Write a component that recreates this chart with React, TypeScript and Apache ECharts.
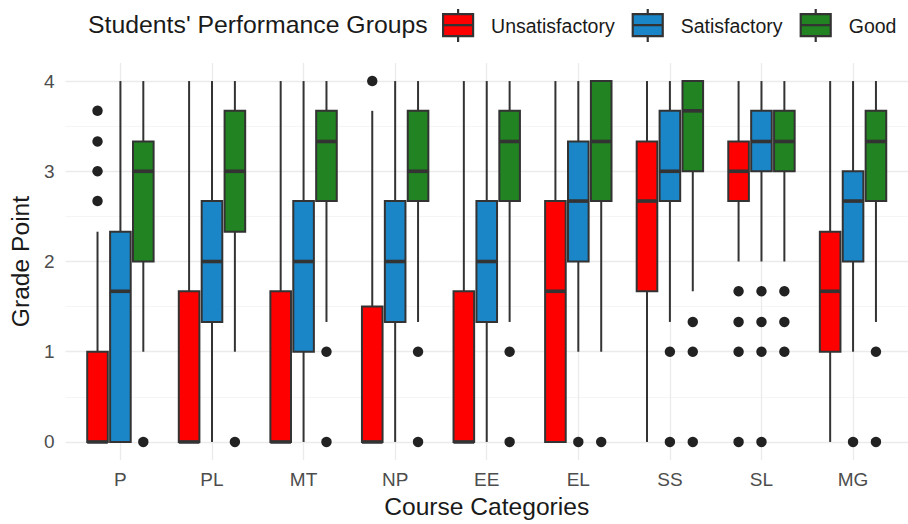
import React, { useEffect, useRef } from 'react';
import * as echarts from 'echarts';

const categories = ['P', 'PL', 'MT', 'NP', 'EE', 'EL', 'SS', 'SL', 'MG'];
const groupNames = ['Unsatisfactory', 'Satisfactory', 'Good'];
const groupColors = ['#FF0000', '#1A86C8', '#218321'];

// Unsatisfactory
const unsatLow = [0, 0, 0, 0, 0, 0, 0, 2, 0];
const unsatQ1 = [0, 0, 0, 0, 0, 0, 1.67, 2.67, 1];
const unsatMed = [0, 0, 0, 0, 0, 1.67, 2.67, 3, 1.67];
const unsatQ3 = [1, 1.67, 1.67, 1.5, 1.67, 2.67, 3.33, 3.33, 2.33];
const unsatHigh = [2.33, 4, 4, 3.67, 4, 4, 4, 4, 4];
const unsatOut = [[2.67, 3, 3.33, 3.67], [], [], [4], [], [], [], [1.67, 1.33, 1, 0], []];

// Satisfactory
const satLow = [0, 0, 0, 0, 0, 1, 1.33, 2, 1];
const satQ1 = [0, 1.33, 1, 1.33, 1.33, 2, 2.67, 3, 2];
const satMed = [1.67, 2, 2, 2, 2, 2.67, 3, 3.33, 2.67];
const satQ3 = [2.33, 2.67, 2.67, 2.67, 2.67, 3.33, 3.67, 3.67, 3];
const satHigh = [4, 4, 4, 4, 4, 4, 4, 4, 4];
const satOut = [[], [], [], [], [], [0], [1, 0], [1.67, 1.33, 1, 0], [0]];

// Good
const goodLow = [1, 1, 1.33, 1.33, 1.33, 1, 1.67, 2, 1.33];
const goodQ1 = [2, 2.33, 2.67, 2.67, 2.67, 2.67, 3, 3, 2.67];
const goodMed = [3, 3, 3.33, 3, 3.33, 3.33, 3.67, 3.33, 3.33];
const goodQ3 = [3.33, 3.67, 3.67, 3.67, 3.67, 4, 4, 3.67, 3.67];
const goodHigh = [4, 4, 4, 4, 4, 4, 4, 4, 4];
const goodOut = [[0], [0], [1, 0], [1, 0], [1, 0], [0], [1.33, 1, 0], [1.67, 1.33, 1], [1, 0]];

const yMajorTicks = [0, 1, 2, 3, 4];
const yMinorTicks = [0.5, 1.5, 2.5, 3.5];

const groups = [
  { low: unsatLow, q1: unsatQ1, med: unsatMed, q3: unsatQ3, high: unsatHigh, out: unsatOut },
  { low: satLow, q1: satQ1, med: satMed, q3: satQ3, high: satHigh, out: satOut },
  { low: goodLow, q1: goodQ1, med: goodMed, q3: goodQ3, high: goodHigh, out: goodOut },
];

const FONT = 'Liberation Sans, Arial, Helvetica, sans-serif';
const DODGE = [-0.25, 0, 0.25];
const BOX_W = 0.225;
const INK = '#333333';

export default function App() {
  const ref = useRef<HTMLDivElement>(null);

  useEffect(() => {
    if (!ref.current) return;
    const chart = echarts.init(ref.current, null, { renderer: 'svg' });

    const series = groups.map((g, gi) => ({
      type: 'custom',
      name: groupNames[gi],
      itemStyle: { color: groupColors[gi] },
      data: categories.map((_, i) => [i + 1, g.low[i], g.q1[i], g.med[i], g.q3[i], g.high[i]]),
      encode: { x: 0, y: [1, 2, 3, 4, 5] },
      renderItem: (params: any, api: any) => {
        const x = api.value(0) + DODGE[gi];
        const pLow = api.coord([x, api.value(1)]);
        const pQ1 = api.coord([x, api.value(2)]);
        const pMed = api.coord([x, api.value(3)]);
        const pQ3 = api.coord([x, api.value(4)]);
        const pHigh = api.coord([x, api.value(5)]);
        const half = api.size([BOX_W, 0])[0] / 2;
        const cx = pMed[0];
        const children: any[] = [
          {
            type: 'line',
            shape: { x1: cx, y1: pQ3[1], x2: cx, y2: pHigh[1] },
            style: { stroke: INK, lineWidth: 2 },
          },
          {
            type: 'line',
            shape: { x1: cx, y1: pQ1[1], x2: cx, y2: pLow[1] },
            style: { stroke: INK, lineWidth: 2 },
          },
          {
            type: 'rect',
            shape: { x: cx - half, y: pQ3[1], width: half * 2, height: pQ1[1] - pQ3[1] },
            style: { fill: groupColors[gi], stroke: INK, lineWidth: 2 },
          },
          {
            type: 'line',
            shape: { x1: cx - half, y1: pMed[1], x2: cx + half, y2: pMed[1] },
            style: { stroke: INK, lineWidth: 3.6 },
          },
        ];
        const outs = g.out[params.dataIndex] || [];
        outs.forEach((v: number) => {
          const p = api.coord([x, v]);
          children.push({
            type: 'circle',
            shape: { cx: p[0], cy: p[1], r: 5.2 },
            style: { fill: '#222222' },
          });
        });
        return { type: 'group', children };
      },
    }));

    chart.setOption({
      animation: false,
      textStyle: { fontFamily: FONT },
      title: {
        text: "Students' Performance Groups",
        left: 88,
        top: 12,
        padding: 0,
        textStyle: { fontSize: 24.8, fontWeight: 'normal', color: '#1a1a1a', fontFamily: FONT },
      },
      legend: {
        data: groupNames,
        left: 442,
        top: 8,
        padding: 0,
        itemWidth: 30,
        itemHeight: 33,
        itemGap: 17,
        selectedMode: false,
        icon: 'path://M0 5 L30 5 L30 27 L0 27 Z M15 0 L15 5 M15 27 L15 33 M0 16 L30 16',
        itemStyle: { borderColor: INK, borderWidth: 2.2 },
        textStyle: { fontSize: 19.5, color: '#1a1a1a', fontFamily: FONT, padding: [0, 0, 0, 13] },
      },
      grid: { left: 64, right: -9, top: 63, bottom: 60 },
      xAxis: {
        type: 'value',
        min: 0.4,
        max: 9.6,
        name: 'Course Categories',
        nameLocation: 'middle',
        nameGap: 34,
        nameTextStyle: { fontSize: 24.6, color: '#1a1a1a', fontFamily: FONT },
        axisLine: { show: false },
        axisTick: { show: false, customValues: categories.map((_, i) => i + 1) },
        axisLabel: {
          customValues: categories.map((_, i) => i + 1),
          formatter: (v: number) => categories[Math.round(v) - 1] ?? '',
          fontSize: 19,
          color: '#4d4d4d',
          margin: 10,
          fontFamily: FONT,
        },
        splitLine: { show: true, lineStyle: { color: '#EBEBEB', width: 1.3 } },
      },
      yAxis: [
        {
          type: 'value',
          min: -0.2,
          max: 4.2,
          name: 'Grade Point',
          nameLocation: 'middle',
          nameGap: 29,
          nameTextStyle: { fontSize: 24.6, color: '#1a1a1a', fontFamily: FONT },
          axisLine: { show: false },
          axisTick: { show: false, customValues: yMajorTicks },
          axisLabel: {
            customValues: yMajorTicks,
            fontSize: 19,
            color: '#4d4d4d',
            margin: 11,
            fontFamily: FONT,
          },
          splitLine: { show: true, lineStyle: { color: '#EBEBEB', width: 1.3 } },
        },
        {
          type: 'value',
          min: -0.2,
          max: 4.2,
          position: 'right',
          axisLine: { show: false },
          axisTick: { show: false, customValues: yMinorTicks },
          axisLabel: { show: false, customValues: yMinorTicks },
          splitLine: { show: true, lineStyle: { color: '#F2F2F2', width: 0.8 } },
        },
      ],
      series,
    });

    return () => chart.dispose();
  }, []);

  return (
    <div
      ref={ref}
      style={{ position: 'fixed', left: 0, top: 0, width: 908, height: 524, background: '#ffffff' }}
    />
  );
}
